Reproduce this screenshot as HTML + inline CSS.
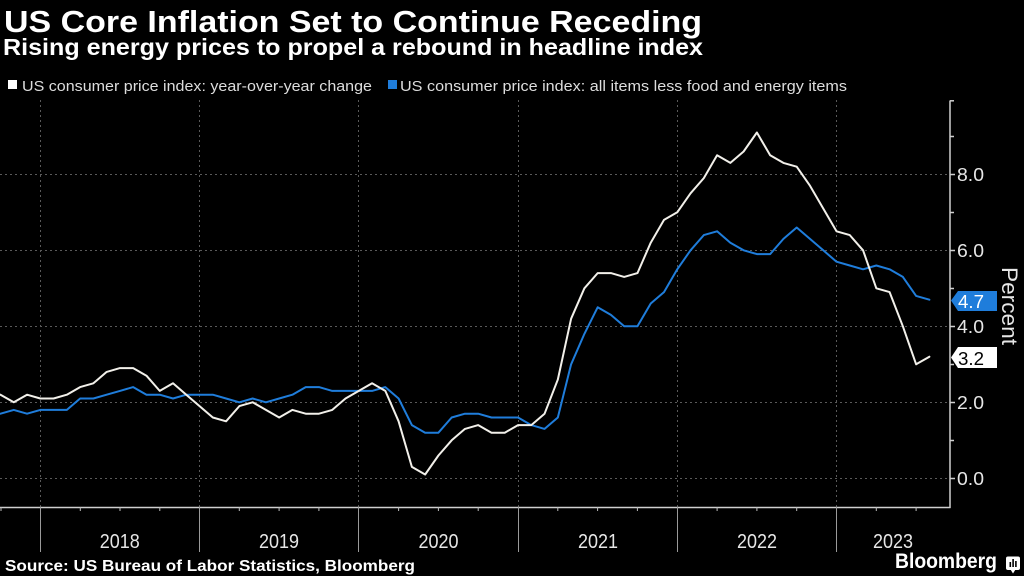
<!DOCTYPE html>
<html>
<head>
<meta charset="utf-8">
<style>
  html, body { margin: 0; padding: 0; background: #000; }
  body { width: 1024px; height: 576px; overflow: hidden; }
  svg { display: block; }
  text { font-family: "Liberation Sans", "DejaVu Sans", sans-serif; }
</style>
</head>
<body>
<svg width="1024" height="576" viewBox="0 0 1024 576" xmlns="http://www.w3.org/2000/svg">
  <rect x="0" y="0" width="1024" height="576" fill="#000"/>

  <!-- Title / subtitle -->
  <text x="4" y="32" font-size="31" font-weight="bold" fill="#ffffff" textLength="698" lengthAdjust="spacingAndGlyphs">US Core Inflation Set to Continue Receding</text>
  <text x="3" y="55" font-size="23" font-weight="bold" fill="#ffffff" textLength="700" lengthAdjust="spacingAndGlyphs">Rising energy prices to propel a rebound in headline index</text>

  <!-- Legend -->
  <rect x="8" y="80" width="9" height="9" fill="#ffffff"/>
  <text x="22" y="91" font-size="15" fill="#dddddd" textLength="350" lengthAdjust="spacingAndGlyphs">US consumer price index: year-over-year change</text>
  <rect x="388" y="80" width="9" height="9" fill="#1f7ddb"/>
  <text x="400" y="91" font-size="15" fill="#dddddd" textLength="447" lengthAdjust="spacingAndGlyphs">US consumer price index: all items less food and energy items</text>

  <!-- Horizontal dotted gridlines -->
  <g stroke="#5a5a5a" stroke-width="1" stroke-dasharray="2,3">
    <line x1="0" y1="174.5" x2="950" y2="174.5"/>
    <line x1="0" y1="250.5" x2="950" y2="250.5"/>
    <line x1="0" y1="326.5" x2="950" y2="326.5"/>
    <line x1="0" y1="402.5" x2="950" y2="402.5"/>
    <line x1="0" y1="478.5" x2="950" y2="478.5"/>
    <!-- vertical year gridlines -->
    <line x1="40.5" y1="100" x2="40.5" y2="507"/>
    <line x1="199.5" y1="100" x2="199.5" y2="507"/>
    <line x1="358.5" y1="100" x2="358.5" y2="507"/>
    <line x1="518.5" y1="100" x2="518.5" y2="507"/>
    <line x1="677.5" y1="100" x2="677.5" y2="507"/>
    <line x1="836.5" y1="100" x2="836.5" y2="507"/>
  </g>

  <!-- Series -->
  <g transform="translate(0.5 478.3) scale(13.27 -38)" fill="none" stroke-linejoin="round" stroke-linecap="round">
    <polyline vector-effect="non-scaling-stroke" stroke="#1f7ddb" stroke-width="2"
      points="0,1.7 1,1.8 2,1.7 3,1.8 4,1.8 5,1.8 6,2.1 7,2.1 8,2.2 9,2.3 10,2.4 11,2.2 12,2.2 13,2.1 14,2.2 15,2.2 16,2.2 17,2.1 18,2.0 19,2.1 20,2.0 21,2.1 22,2.2 23,2.4 24,2.4 25,2.3 26,2.3 27,2.3 28,2.3 29,2.4 30,2.1 31,1.4 32,1.2 33,1.2 34,1.6 35,1.7 36,1.7 37,1.6 38,1.6 39,1.6 40,1.4 41,1.3 42,1.6 43,3.0 44,3.8 45,4.5 46,4.3 47,4.0 48,4.0 49,4.6 50,4.9 51,5.5 52,6.0 53,6.4 54,6.5 55,6.2 56,6.0 57,5.9 58,5.9 59,6.3 60,6.6 61,6.3 62,6.0 63,5.7 64,5.6 65,5.5 66,5.6 67,5.5 68,5.3 69,4.8 70,4.7"/>
    <polyline vector-effect="non-scaling-stroke" stroke="#f2f0ea" stroke-width="2"
      points="0,2.2 1,2.0 2,2.2 3,2.1 4,2.1 5,2.2 6,2.4 7,2.5 8,2.8 9,2.9 10,2.9 11,2.7 12,2.3 13,2.5 14,2.2 15,1.9 16,1.6 17,1.5 18,1.9 19,2.0 20,1.8 21,1.6 22,1.8 23,1.7 24,1.7 25,1.8 26,2.1 27,2.3 28,2.5 29,2.3 30,1.5 31,0.3 32,0.1 33,0.6 34,1.0 35,1.3 36,1.4 37,1.2 38,1.2 39,1.4 40,1.4 41,1.7 42,2.6 43,4.2 44,5.0 45,5.4 46,5.4 47,5.3 48,5.4 49,6.2 50,6.8 51,7.0 52,7.5 53,7.9 54,8.5 55,8.3 56,8.6 57,9.1 58,8.5 59,8.3 60,8.2 61,7.7 62,7.1 63,6.5 64,6.4 65,6.0 66,5.0 67,4.9 68,4.0 69,3.0 70,3.2"/>
  </g>

  <!-- Axes -->
  <g stroke="#cfcfcf" stroke-width="1.5" fill="none">
    <line x1="0" y1="507.5" x2="950.5" y2="507.5"/>
    <line x1="950" y1="100.5" x2="950" y2="508"/>
    <!-- right axis ticks -->
    <line x1="950" y1="100.8" x2="954" y2="100.8"/>
    <line x1="950" y1="136.5" x2="954" y2="136.5"/>
    <line x1="950" y1="174.5" x2="955" y2="174.5"/>
    <line x1="950" y1="212.5" x2="954" y2="212.5"/>
    <line x1="950" y1="250.5" x2="955" y2="250.5"/>
    <line x1="950" y1="288.5" x2="954" y2="288.5"/>
    <line x1="950" y1="326.5" x2="955" y2="326.5"/>
    <line x1="950" y1="364.5" x2="954" y2="364.5"/>
    <line x1="950" y1="402.5" x2="955" y2="402.5"/>
    <line x1="950" y1="440.5" x2="954" y2="440.5"/>
    <line x1="950" y1="478.5" x2="955" y2="478.5"/>
  </g>
  <!-- x-axis quarter ticks -->
  <g stroke="#bdbdbd" stroke-width="1">
    <line x1="1" y1="507" x2="1" y2="511"/>
    <line x1="80.3" y1="507" x2="80.3" y2="511"/>
    <line x1="120" y1="507" x2="120" y2="511"/>
    <line x1="159.8" y1="507" x2="159.8" y2="511"/>
    <line x1="239.3" y1="507" x2="239.3" y2="511"/>
    <line x1="279.1" y1="507" x2="279.1" y2="511"/>
    <line x1="318.9" y1="507" x2="318.9" y2="511"/>
    <line x1="398.6" y1="507" x2="398.6" y2="511"/>
    <line x1="438.4" y1="507" x2="438.4" y2="511"/>
    <line x1="478.2" y1="507" x2="478.2" y2="511"/>
    <line x1="557.8" y1="507" x2="557.8" y2="511"/>
    <line x1="597.6" y1="507" x2="597.6" y2="511"/>
    <line x1="637.4" y1="507" x2="637.4" y2="511"/>
    <line x1="717.1" y1="507" x2="717.1" y2="511"/>
    <line x1="756.9" y1="507" x2="756.9" y2="511"/>
    <line x1="796.7" y1="507" x2="796.7" y2="511"/>
    <line x1="876.3" y1="507" x2="876.3" y2="511"/>
    <line x1="916.1" y1="507" x2="916.1" y2="511"/>
  </g>
  <!-- year separators below axis -->
  <g stroke="#9a9a9a" stroke-width="1">
    <line x1="40.5" y1="507" x2="40.5" y2="552"/>
    <line x1="199.5" y1="507" x2="199.5" y2="552"/>
    <line x1="358.5" y1="507" x2="358.5" y2="552"/>
    <line x1="518.5" y1="507" x2="518.5" y2="552"/>
    <line x1="677.5" y1="507" x2="677.5" y2="552"/>
    <line x1="836.5" y1="507" x2="836.5" y2="552"/>
  </g>

  <!-- Year labels -->
  <g font-size="20" fill="#e6e6e6" text-anchor="middle">
    <text x="119.8" y="548" textLength="40" lengthAdjust="spacingAndGlyphs">2018</text>
    <text x="279" y="548" textLength="40" lengthAdjust="spacingAndGlyphs">2019</text>
    <text x="438.5" y="548" textLength="40" lengthAdjust="spacingAndGlyphs">2020</text>
    <text x="598" y="548" textLength="40" lengthAdjust="spacingAndGlyphs">2021</text>
    <text x="757" y="548" textLength="40" lengthAdjust="spacingAndGlyphs">2022</text>
    <text x="893" y="548" textLength="40" lengthAdjust="spacingAndGlyphs">2023</text>
  </g>

  <!-- Y labels -->
  <g font-size="18" fill="#e6e6e6">
    <text x="957" y="181" textLength="27" lengthAdjust="spacingAndGlyphs">8.0</text>
    <text x="957" y="257" textLength="27" lengthAdjust="spacingAndGlyphs">6.0</text>
    <text x="957" y="333" textLength="27" lengthAdjust="spacingAndGlyphs">4.0</text>
    <text x="957" y="409" textLength="27" lengthAdjust="spacingAndGlyphs">2.0</text>
    <text x="957" y="485" textLength="27" lengthAdjust="spacingAndGlyphs">0.0</text>
  </g>

  <!-- Percent label -->
  <text transform="translate(1002 306) rotate(90)" font-size="22" fill="#e6e6e6" text-anchor="middle" textLength="78" lengthAdjust="spacingAndGlyphs">Percent</text>

  <!-- Value tags -->
  <polygon points="951,300.5 958,291 997,291 997,311 958,311" fill="#1f7ddb"/>
  <text x="958" y="308" font-size="18" fill="#ffffff" textLength="26" lengthAdjust="spacingAndGlyphs">4.7</text>
  <polygon points="951,357.5 958,347 997,347 997,368 958,368" fill="#ffffff"/>
  <text x="958" y="365" font-size="18" fill="#000000" textLength="26" lengthAdjust="spacingAndGlyphs">3.2</text>

  <!-- Footer -->
  <text x="5" y="571" font-size="16" font-weight="bold" fill="#ffffff" textLength="410" lengthAdjust="spacingAndGlyphs">Source: US Bureau of Labor Statistics, Bloomberg</text>
  <text x="895" y="568" font-size="21" font-weight="bold" fill="#ffffff" textLength="102" lengthAdjust="spacingAndGlyphs">Bloomberg</text>
  <!-- Bloomberg icon -->
  <rect x="1006" y="556.5" width="14" height="13.5" rx="2" fill="#ffffff"/>
  <polygon points="1010.5,569.5 1015.5,569.5 1013,573.5" fill="#ffffff"/>
  <g fill="#000">
    <rect x="1009.5" y="562" width="1.6" height="5"/>
    <rect x="1012.3" y="559" width="1.6" height="8"/>
    <rect x="1015.1" y="561" width="1.6" height="6"/>
  </g>
</svg>
</body>
</html>
